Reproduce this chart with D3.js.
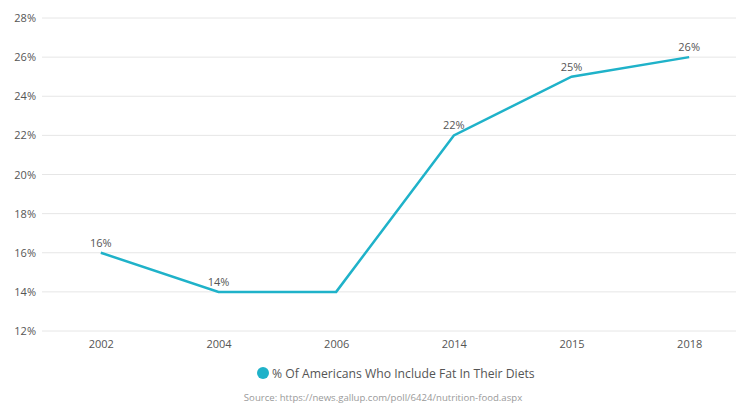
<!DOCTYPE html>
<html>
<head>
<meta charset="utf-8">
<script src="https://cdn.jsdelivr.net/npm/d3@7"></script>
<style>
  html, body { margin: 0; padding: 0; background: #fff; }
  svg { display: block; font-family: "Open Sans", "Noto Sans", sans-serif; }
</style>
</head>
<body>
<svg id="chart" width="736" height="406"></svg>
<script>
// Survey years and share of respondents (%)
const years = ["2002", "2004", "2006", "2014", "2015", "2018"];
const shares = [16, 14, 14, 22, 25, 26];
// Which points carry a value label
const labelled = [true, true, false, true, true, true];
const yTicks = [12, 14, 16, 18, 20, 22, 24, 26, 28];
const seriesName = "% Of Americans Who Include Fat In Their Diets";
const sourceText = "Source: https://news.gallup.com/poll/6424/nutrition-food.aspx";

const W = 736, H = 406;
const lineColor = "#1fb2c9";
const svg = d3.select("#chart");

const x = d3.scalePoint().domain(years).range([42, 748]).padding(0.5);
const y = d3.scaleLinear().domain([12, 28]).range([331, 18]);

// Horizontal gridlines
svg.append("g")
  .selectAll("line")
  .data(yTicks)
  .join("line")
  .attr("x1", 42).attr("x2", W)
  .attr("y1", d => y(d)).attr("y2", d => y(d))
  .attr("stroke", "#e6e6e6").attr("stroke-width", 1);

// Y axis labels
const yAxis = svg.append("g")
  .attr("transform", "translate(36,0)")
  .call(d3.axisLeft(y).tickValues(yTicks).tickFormat(d => d + "%").tickSize(0).tickPadding(0));
yAxis.select(".domain").remove();
yAxis.selectAll("text").attr("fill", "#555").style("font-size", "11px").style("font-family", "'Open Sans', sans-serif");

// X axis labels
const xAxis = svg.append("g")
  .attr("transform", "translate(0,340)")
  .call(d3.axisBottom(x).tickSize(0).tickPadding(0));
xAxis.select(".domain").remove();
xAxis.selectAll("text").attr("fill", "#555").style("font-size", "11px").style("font-family", "'Open Sans', sans-serif");

const pts = years.map((yr, i) => ({ yr, v: shares[i], lab: labelled[i] }));

// Series line
svg.append("path")
  .datum(pts)
  .attr("fill", "none")
  .attr("stroke", lineColor)
  .attr("stroke-width", 2.5)
  .attr("stroke-linejoin", "miter")
  .attr("d", d3.line().x(d => x(d.yr)).y(d => y(d.v)));

// Value labels
svg.append("g")
  .selectAll("text")
  .data(pts.filter(d => d.lab))
  .join("text")
  .attr("x", d => x(d.yr))
  .attr("y", d => y(d.v) - 6)
  .attr("text-anchor", "middle")
  .attr("fill", "#555")
  .style("font-size", "11px")
  .text(d => d.v + "%");

// Legend
const legend = svg.append("g");
legend.append("circle").attr("cx", 263).attr("cy", 373).attr("r", 6).attr("fill", lineColor);
legend.append("text")
  .attr("x", 272).attr("y", 377.5)
  .attr("fill", "#555")
  .style("font-size", "12.2px")
  .text(seriesName);

// Source note
svg.append("text")
  .attr("x", 383).attr("y", 401)
  .attr("text-anchor", "middle")
  .attr("fill", "#9a9a9a")
  .style("font-size", "9.6px")
  .text(sourceText);
</script>
</body>
</html>
